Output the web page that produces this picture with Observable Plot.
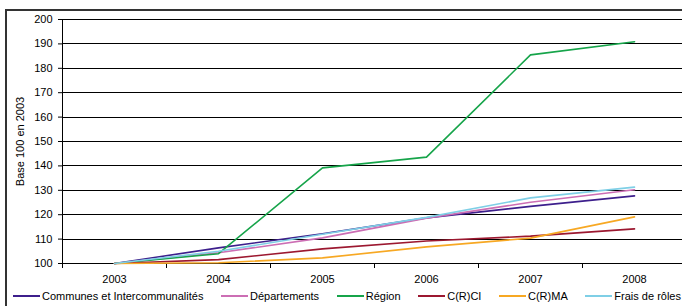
<!DOCTYPE html>
<html><head><meta charset="utf-8">
<script src="https://cdn.jsdelivr.net/npm/d3@7"></script>
<script src="https://cdn.jsdelivr.net/npm/@observablehq/plot@0.6"></script>
<style>
body{margin:0;background:#fff;font-family:"Liberation Sans",Arial,sans-serif;}
#wrap{position:relative;width:682px;height:306px;overflow:hidden;background:#fff;}
#frame{position:absolute;left:5px;top:9px;width:720px;height:340px;border:2px solid #333;box-sizing:border-box;}
#chart{position:absolute;left:0;top:0;}
#legend{position:absolute;left:13px;top:289px;width:668px;display:flex;justify-content:space-between;font-size:11px;line-height:14px;color:#000;}
.item{display:flex;align-items:center;white-space:nowrap}
.swatch{width:27px;height:2px;margin-right:2px}
</style></head>
<body>
<div id="wrap"><div id="frame"></div><div id="chart"></div><div id="legend"></div></div>
<script>
const years = [2003, 2004, 2005, 2006, 2007, 2008];
const seriesNames = ["Communes et Intercommunalités", "Départements", "Région", "C(R)CI", "C(R)MA", "Frais de rôles"];
const communes = [100, 106.4, 112.2, 118.7, 123.4, 127.7];
const departements = [100, 104.4, 110.5, 118.6, 125.1, 130.2];
const region = [100, 104.0, 139.2, 143.6, 185.5, 190.9];
const crci = [100, 101.6, 106.0, 109.2, 111.2, 114.2];
const crma = [100, 100.3, 102.3, 106.8, 110.4, 119.1];
const frais = [100, 105.0, 112.0, 118.9, 126.9, 131.3];
const colors = ["#3d1f8c", "#cc6eb4", "#16a44a", "#9c1830", "#f7a823", "#7fcfe6"];
const yTicks = [100, 110, 120, 130, 140, 150, 160, 170, 180, 190, 200];
const gridTicks = [110, 120, 130, 140, 150, 160, 170, 180, 190, 200];
const xBounds = [2002.5, 2003.5, 2004.5, 2005.5, 2006.5, 2007.5, 2008.5];

const allSeries = [communes, departements, region, crci, crma, frais];
const data = [];
allSeries.forEach((vals, i) => vals.forEach((v, j) => data.push({series: seriesNames[i], year: years[j], value: v})));

const chart = Plot.plot({
  width: 682,
  height: 286,
  marginTop: 19,
  marginBottom: 23,
  marginLeft: 62,
  marginRight: -4,
  style: {fontSize: "11px", fontFamily: "'Liberation Sans', Arial, sans-serif", background: "transparent", color: "#000"},
  x: {domain: [2002.5, 2008.5], range: [62, 686]},
  y: {domain: [100, 200]},
  color: {domain: seriesNames, range: colors},
  marks: [
    Plot.ruleY(gridTicks, {stroke: "#000", strokeWidth: 1, shapeRendering: "crispEdges"}),
    Plot.ruleY([100], {stroke: "#000", strokeWidth: 1, shapeRendering: "crispEdges"}),
    Plot.ruleX([2002.5], {y1: 100, y2: 200, stroke: "#000", strokeWidth: 1, shapeRendering: "crispEdges"}),
    Plot.axisY({ticks: yTicks, tickSize: 4, tickPadding: 6, label: "Base 100 en 2003", labelAnchor: "center", labelOffset: 46, labelArrow: "none", tickFormat: d => String(d)}),
    Plot.axisX({ticks: xBounds, tickSize: 5, tickFormat: () => "", label: null}),
    Plot.axisX({ticks: years, tickSize: 0, tickPadding: 12, tickFormat: d => String(d), label: null}),
    Plot.line(data, {x: "year", y: "value", z: "series", stroke: "series", strokeWidth: 1.6})
  ]
});
document.getElementById("chart").appendChild(chart);

const legend = document.getElementById("legend");
seriesNames.forEach((name, i) => {
  const item = document.createElement("div");
  item.className = "item";
  const sw = document.createElement("span");
  sw.className = "swatch";
  sw.style.background = colors[i];
  const t = document.createElement("span");
  t.textContent = name;
  item.appendChild(sw);
  item.appendChild(t);
  legend.appendChild(item);
});
</script>
</body></html>
